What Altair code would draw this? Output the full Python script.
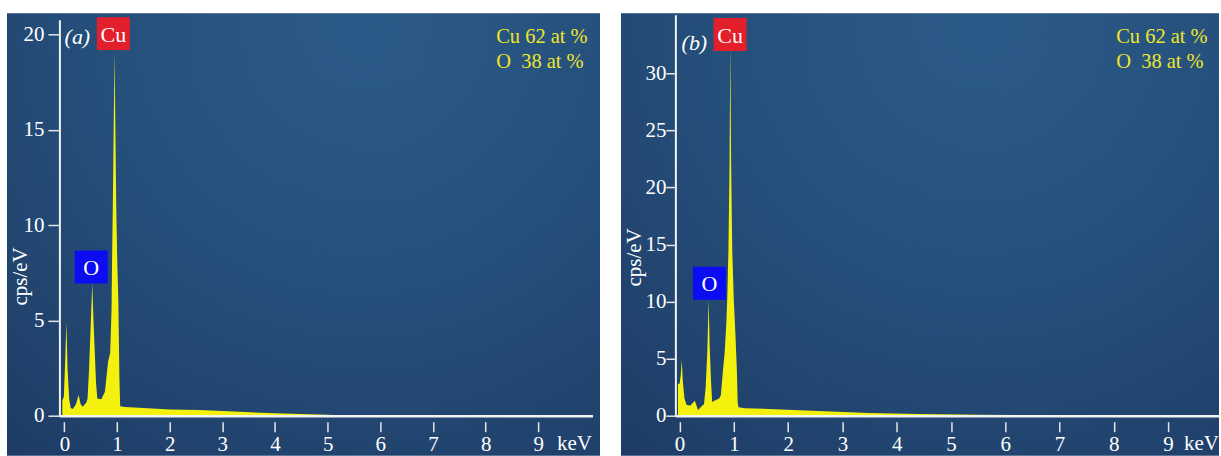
import altair as alt
import pandas as pd

# ---------------- data ----------------
energy_a = [-0.04, -0.01, 0.01, 0.04, 0.06, 0.09, 0.12, 0.16, 0.22, 0.27, 0.31, 0.35, 0.42,
            0.44, 0.47, 0.49, 0.51, 0.53, 0.55, 0.575, 0.60, 0.625, 0.70, 0.77, 0.83,
            0.87, 0.895, 0.905, 0.92, 0.94, 0.955, 0.965, 0.985, 1.005, 1.025, 1.045,
            1.06, 1.15, 1.5, 2.0, 2.57, 3.0, 3.52, 4.0, 4.47, 5.0, 5.5, 9.9]
counts_a = [0.8, 1.0, 2.5, 4.9, 2.5, 0.9, 0.4, 0.35, 0.6, 1.08, 0.6, 0.47, 0.7,
            0.9, 2.5, 4.0, 5.5, 6.93, 5.2, 3.5, 1.8, 0.9, 0.86, 1.26, 2.83,
            3.3, 5.5, 8.0, 11.0, 16.0, 19.1, 16.0, 11.0, 8.0, 6.0, 2.0,
            0.5, 0.45, 0.4, 0.33, 0.3, 0.24, 0.18, 0.13, 0.09, 0.05, 0.0, 0.0]

energy_b = [-0.03, 0.0, 0.02, 0.04, 0.06, 0.09, 0.13, 0.2, 0.28, 0.34, 0.42, 0.45,
            0.48, 0.51, 0.535, 0.555, 0.58, 0.60, 0.64, 0.73, 0.76, 0.80, 0.83, 0.86,
            0.88, 0.90, 0.92, 0.935, 0.95, 0.97, 1.0, 1.03, 1.055, 1.07, 1.085, 1.2,
            1.64, 2.56, 3.48, 4.4, 5.5, 7.0, 7.5, 9.9]
counts_b = [2.8, 2.8, 3.5, 4.87, 3.0, 1.5, 0.94, 0.9, 1.31, 0.5, 0.9, 1.0,
            2.5, 5.5, 10.2, 6.0, 3.0, 1.2, 1.3, 1.5, 1.8, 4.0, 5.5, 8.0,
            10.5, 14.5, 22.0, 32.5, 22.0, 14.5, 10.0, 7.0, 4.0, 1.2, 0.73, 0.66,
            0.59, 0.41, 0.24, 0.15, 0.09, 0.03, 0.0, 0.0]

x_ticks = [0, 1, 2, 3, 4, 5, 6, 7, 8, 9]
y_ticks_a = [0, 5, 10, 15, 20]
y_ticks_b = [0, 5, 10, 15, 20, 25, 30]

elements = ["O", "Cu"]
box_colors = ["#0b0cf2", "#e21f2a"]
label_energy_a = [0.51, 0.93]
label_height_a = [7.8, 20.04]
label_energy_b = [0.55, 0.93]
label_height_b = [11.6, 33.4]

composition = "Cu 62 at %\nO\u00a0\u00a038 at %"

SERIF = "Liberation Serif"
YELLOW = "#f4f10e"
TEXT_YELLOW = "#efe62a"
H = 401

bg_gradient = alt.Gradient(
    gradient="radial",
    stops=[alt.GradientStop(color="#2c5a88", offset=0),
           alt.GradientStop(color="#25507c", offset=0.45),
           alt.GradientStop(color="#1e3b64", offset=1)],
    x1=0.6, y1=0.15, r1=0, x2=0.6, y2=0.15, r2=0.95,
)


def panel(energy, counts, xdom, ydom, width, yline_top, yticks, ytick_size, ylab_pad,
          lab_e, lab_h, tag, tag_xy, title_xy, comp_xy, kev_x, bg_x):
    spec = pd.DataFrame({"energy": energy, "counts": counts})
    labels = pd.DataFrame({"element": elements, "e": lab_e, "h": lab_h, "c": box_colors})
    one = pd.DataFrame({"k": [0]})

    xs = alt.Scale(domain=xdom, nice=False, zero=False)
    ys = alt.Scale(domain=ydom, nice=False, zero=False)

    bg = alt.Chart(one).mark_rect(color=bg_gradient).encode(
        x=alt.value(bg_x[0]), x2=alt.value(bg_x[1]), y=alt.value(-2), y2=alt.value(H + 40)
    )

    area = alt.Chart(spec).mark_area(color=YELLOW, opacity=1, clip=True).encode(
        x=alt.X("energy:Q", scale=xs,
                axis=alt.Axis(values=x_ticks, domain=False, offset=6, tickSize=10,
                              tickWidth=1.5, tickColor="#e6e6e6", labelFont=SERIF,
                              labelFontSize=21, labelColor="white", labelPadding=2,
                              grid=False, title=None, labelFlush=False,
                              labelOverlap=False, zindex=2)),
        y=alt.Y("counts:Q", scale=ys,
                axis=alt.Axis(values=yticks, domain=False, tickSize=ytick_size,
                              tickWidth=1.5, tickColor="#e6e6e6", labelFont=SERIF,
                              labelFontSize=21, labelColor="white", labelPadding=ylab_pad,
                              grid=False, title="cps/eV", titleFont=SERIF,
                              titleFontSize=21, titleFontWeight="normal",
                              titleColor="white", titleX=title_xy[0], titleY=title_xy[1],
                              titleAngle=270, titleAlign="center",
                              titleBaseline="middle", labelFlush=False, zindex=2)),
    )

    xline = alt.Chart(one).mark_rule(color="#f2f2f2", strokeWidth=2.5).encode(
        x=alt.value(0), x2=alt.value(width), y=alt.value(H + 0.5)
    )
    yline = alt.Chart(one).mark_rule(color="#f2f2f2", strokeWidth=2).encode(
        x=alt.value(0), y=alt.value(yline_top), y2=alt.value(H + 1)
    )

    boxes = alt.Chart(labels).mark_square(size=1089, opacity=1, filled=True).encode(
        x=alt.X("e:Q", scale=xs), y=alt.Y("h:Q", scale=ys),
        color=alt.Color("c:N", scale=None),
    )
    box_text = alt.Chart(labels).mark_text(font=SERIF, fontSize=22, color="white",
                                           align="center", baseline="middle", dy=1).encode(
        x=alt.X("e:Q", scale=xs), y=alt.Y("h:Q", scale=ys), text="element:N"
    )

    tag_text = alt.Chart(one).mark_text(font=SERIF, fontSize=22, fontStyle="italic",
                                        color="white", align="center",
                                        baseline="alphabetic").encode(
        x=alt.value(tag_xy[0]), y=alt.value(tag_xy[1]), text=alt.value(tag)
    )
    comp_text = alt.Chart(one).mark_text(font=SERIF, fontSize=20.5, color=TEXT_YELLOW,
                                         align="left", baseline="alphabetic",
                                         lineBreak="\n", lineHeight=25).encode(
        x=alt.value(comp_xy[0]), y=alt.value(comp_xy[1]), text=alt.value(composition)
    )
    kev = alt.Chart(one).mark_text(font=SERIF, fontSize=21, color="white",
                                   align=kev_x[1], baseline="alphabetic").encode(
        x=alt.value(kev_x[0]), y=alt.value(H + 34), text=alt.value("keV")
    )

    return alt.layer(bg, area, xline, yline, boxes, box_text, tag_text, comp_text, kev).properties(
        width=width, height=H
    )


pa = panel(energy_a, counts_a, [-0.085, 10.04], [0, 21.0], 534, 5, y_ticks_a, 12, 4,
           label_energy_a, label_height_a, "(a)", (17.5, 29), (-39, 261), (437, 28),
           (498, "left"), (-53, 541))
pb = panel(energy_b, counts_b, [-0.068, 9.938], [0, 35.08], 544, 0, y_ticks_b, 10, 0,
           label_energy_b, label_height_b, "(b)", (18.5, 35), (-41, 242), (441, 28),
           (544, "right"), (-55, 544))

chart = alt.hconcat(pa, pb, spacing=21).properties(
    padding={"left": 7, "top": 13, "right": 0, "bottom": 0},
    background="white",
).configure_view(stroke=None)

chart.save("out.html", embed_options={"renderer": "svg", "actions": False})
